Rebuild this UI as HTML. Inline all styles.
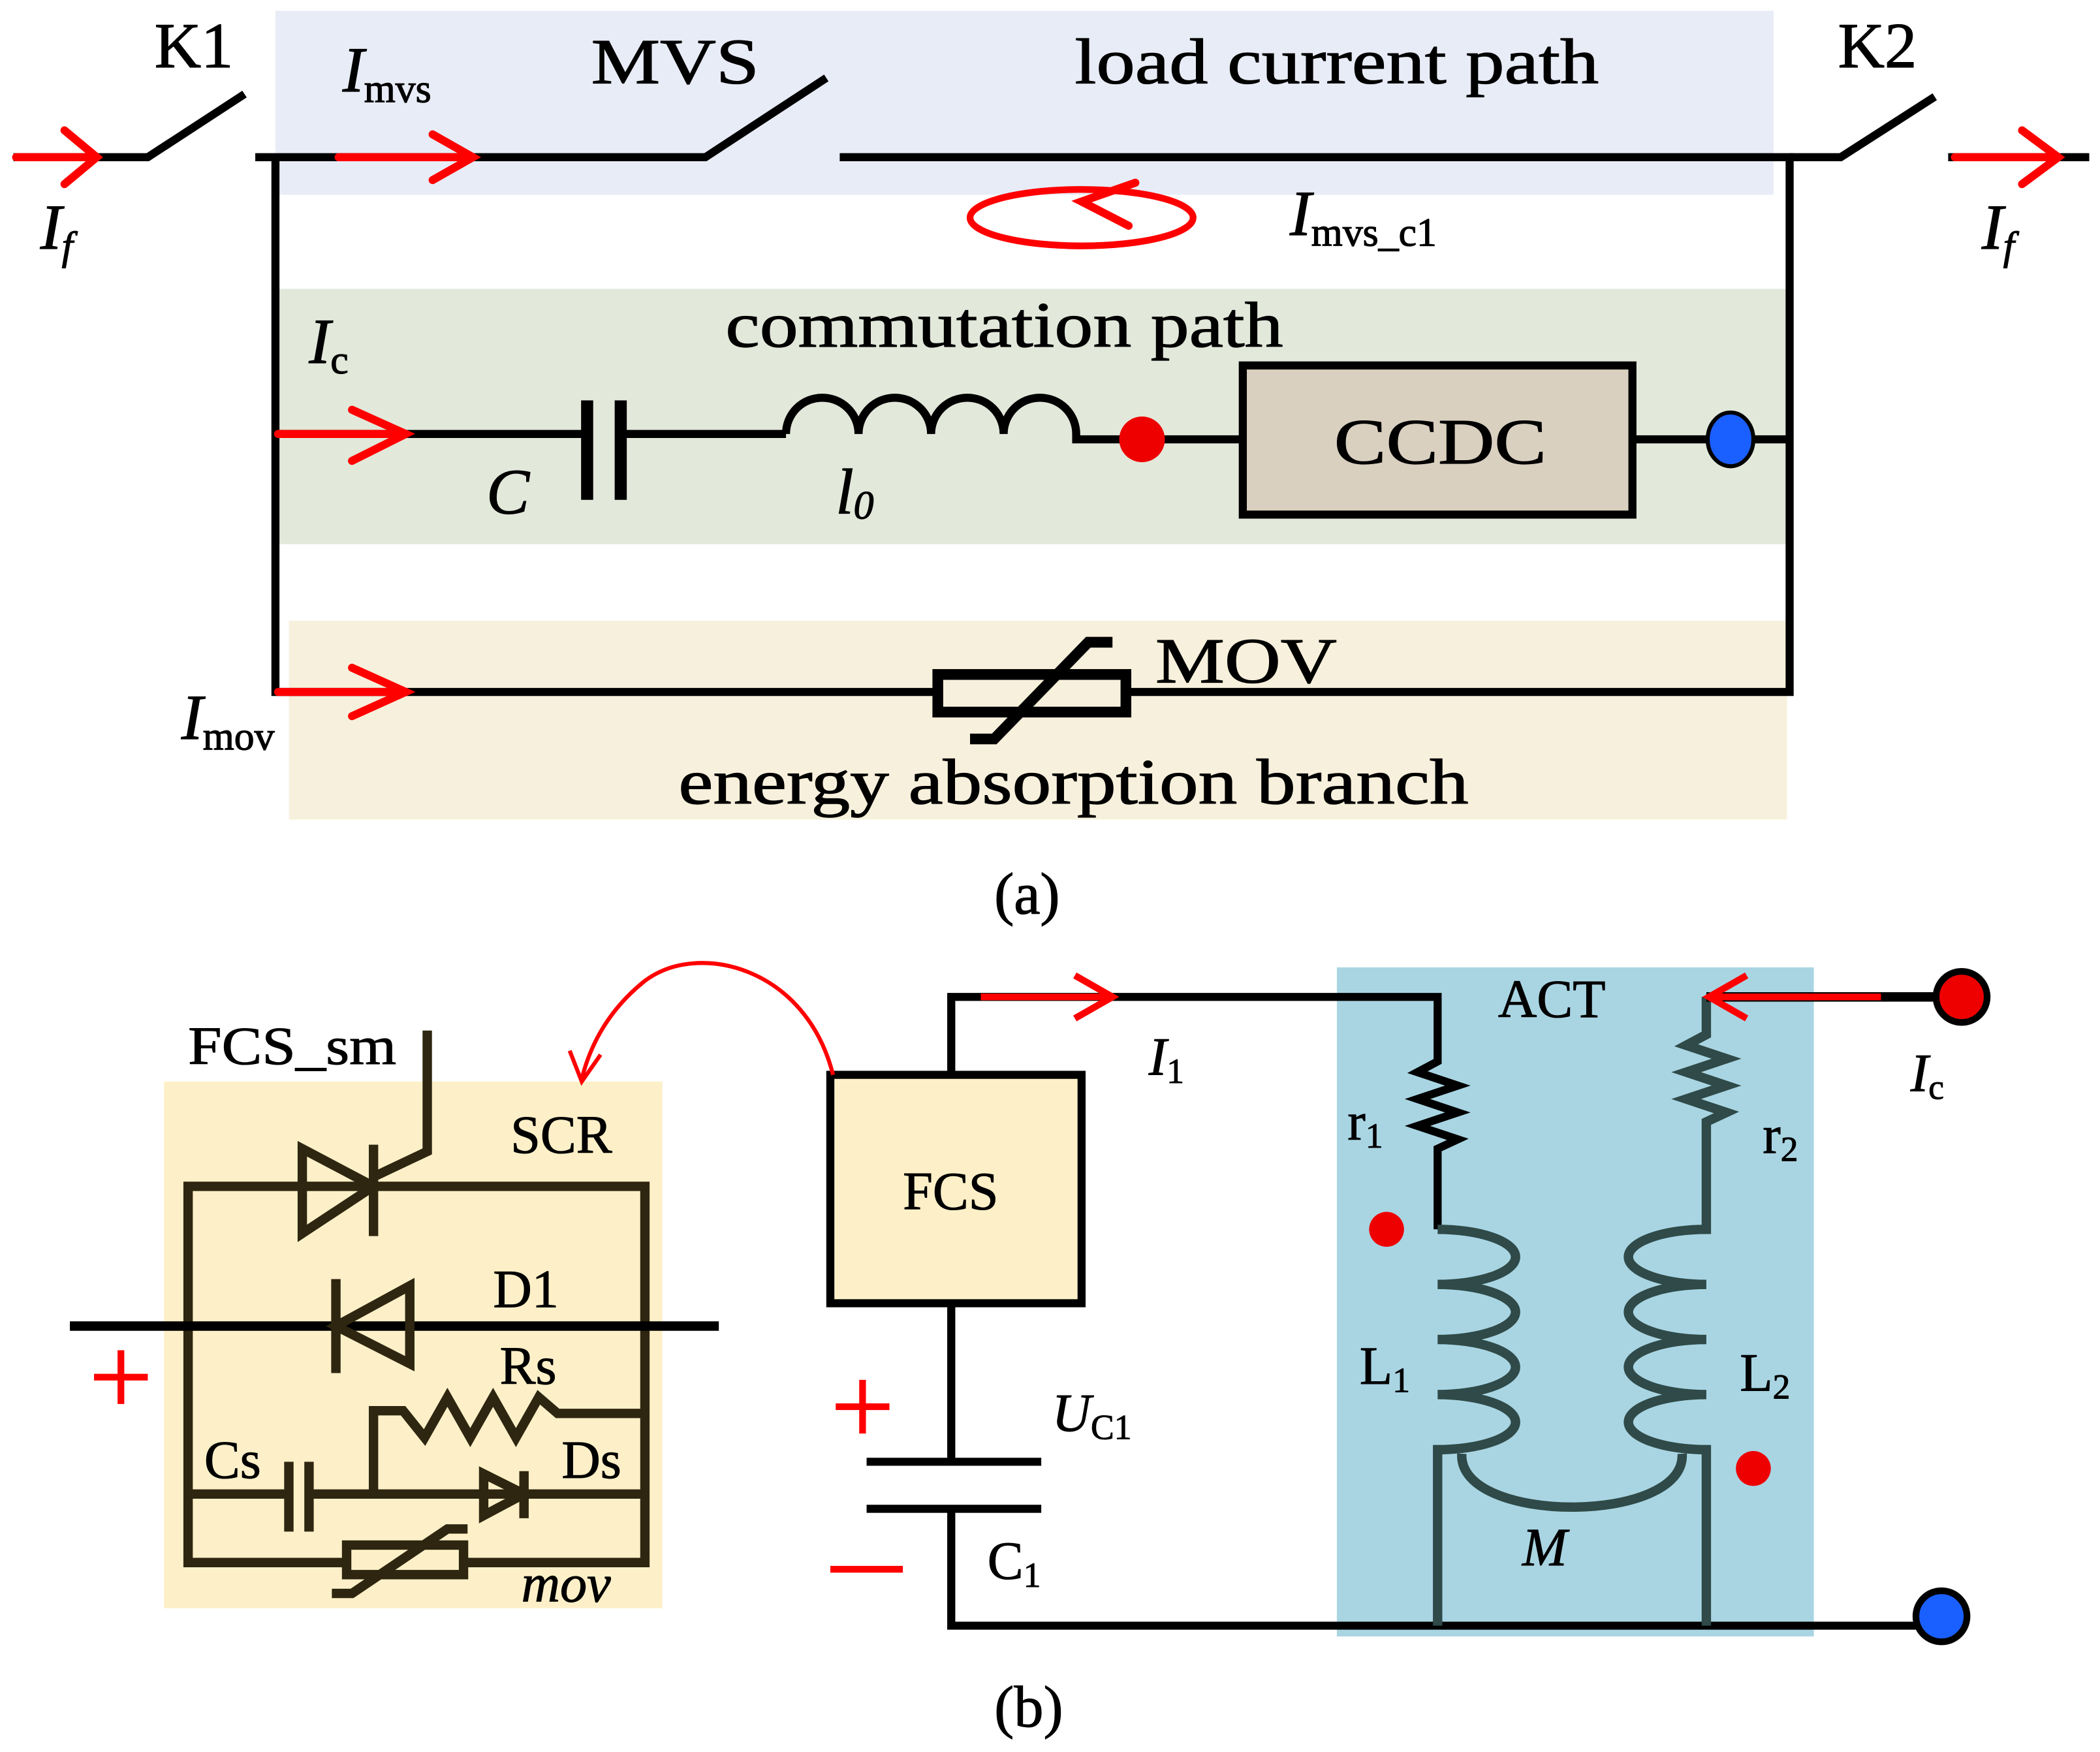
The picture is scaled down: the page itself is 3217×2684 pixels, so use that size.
<!DOCTYPE html>
<html><head><meta charset="utf-8"><style>html,body{margin:0;padding:0;background:#fff}svg{display:block}</style></head>
<body>
<svg width="3217" height="2684" viewBox="0 0 1563 1304" xmlns="http://www.w3.org/2000/svg" font-family="Liberation Serif, serif">
<!-- bands -->
<rect x="205" y="8" width="1115" height="137" fill="#e8ecf6"/>
<rect x="205" y="215" width="1125" height="190" fill="#e2e8da"/>
<rect x="215" y="462" width="1115" height="148" fill="#f7f0dc"/>
<g stroke="#000" stroke-width="6" fill="none">
<path d="M10,117 H110 L182,70"/>
<path d="M190,117 H525 L615,58"/>
<path d="M625,117 H1332 V515 H840"/>
<path d="M1332,117 H1370 L1440,72"/>
<path d="M1450,117 H1555"/>
<path d="M205,117 V515 H695"/>
<path d="M205,323 H437 M462,323 H585"/>
<path d="M437,298 V372 M462,298 V372" stroke-width="9"/>
<path d="M585,323 a27,27 0 0 1 54,0 a27,27 0 0 1 54,0 a27,27 0 0 1 54,0 a27,27 0 0 1 54,0 V327 H925 M1215,327 H1330"/>
<rect x="925" y="272" width="290" height="111" fill="#d9d0c0"/>
<rect x="698" y="502" width="140" height="28" stroke-width="8"/>
<path d="M722,550 H740 L810,478 H828" stroke-width="8"/>
</g>
<circle cx="850" cy="327" r="17" fill="#e00"/>
<ellipse cx="1288" cy="327" rx="17" ry="20" fill="#1a5fff" stroke="#000" stroke-width="3"/>
<g stroke="#f00" stroke-width="6" fill="none" stroke-linecap="round">
<path d="M12,117 H72 M48,97 L72,117 L48,137"/>
<path d="M252,117 H352 M322,100 L352,117 L322,134"/>
<path d="M1455,117 H1532 M1505,97 L1532,117 L1505,137"/>
<path d="M207,323 H302 M262,305 L302,323 L262,343"/>
<path d="M207,515 H302 M262,497 L302,515 L262,533"/>
<ellipse cx="805" cy="162" rx="83" ry="21" stroke-width="5"/>
<path d="M845,136 L805,150 L840,168" stroke-width="6"/>
</g>
<g fill="#000" font-size="48" stroke="#000" stroke-width="0.6">
<text x="115" y="50">K1</text>
<text x="255" y="68" font-style="italic">I<tspan font-size="30" font-style="normal" dy="8">mvs</tspan></text>
<text x="440" y="62" textLength="125" lengthAdjust="spacingAndGlyphs">MVS</text>
<text x="800" y="62" textLength="390" lengthAdjust="spacingAndGlyphs">load current path</text>
<text x="1368" y="50">K2</text>
<text x="30" y="185" font-style="italic">I<tspan font-size="30" dy="8">f</tspan></text>
<text x="1475" y="185" font-style="italic">I<tspan font-size="30" dy="8">f</tspan></text>
<text x="960" y="175" font-style="italic">I<tspan font-size="30" font-style="normal" dy="8">mvs_c1</tspan></text>
<text x="540" y="258" textLength="415" lengthAdjust="spacingAndGlyphs">commutation path</text>
<text x="230" y="270" font-style="italic">I<tspan font-size="30" font-style="normal" dy="8">c</tspan></text>
<text x="362" y="382" font-style="italic">C</text>
<text x="622" y="382" font-style="italic">l<tspan font-size="30" dy="4">0</tspan></text>
<text x="993" y="345" textLength="158" lengthAdjust="spacingAndGlyphs">CCDC</text>
<text x="860" y="508" textLength="135" lengthAdjust="spacingAndGlyphs">MOV</text>
<text x="135" y="550" font-style="italic">I<tspan font-size="30" font-style="normal" dy="8">mov</tspan></text>
<text x="505" y="598" textLength="588" lengthAdjust="spacingAndGlyphs">energy absorption branch</text>
<text x="740" y="680" font-size="44">(a)</text>
</g>
<!-- part b -->
<rect x="122" y="805" width="371" height="392" fill="#fdf0c8"/>
<rect x="995" y="720" width="355" height="498" fill="#a9d5e3"/>
<g stroke="#2e2610" stroke-width="7" fill="none">
<path d="M318,767 V857 L280,875"/>
<path d="M140,1163 V883 H480 V1163 Z"/>
<path d="M225,855 V918 L278,883 Z M278,852 V920"/>
<path d="M52,987 H535" stroke="#000"/>
<path d="M305,957 V1015 L250,987 Z M250,952 V1022"/>
<path d="M278,1112 V1050 H300 L316,1070 L333,1040 L350,1070 L367,1040 L384,1070 L401,1040 L415,1052 H480"/>
<path d="M140,1112 H215 M230,1112 H480"/>
<path d="M215,1088 V1140 M230,1088 V1140"/>
<path d="M360,1097 V1128 L390,1112 Z M390,1095 V1130"/>
<rect x="258" y="1150" width="87" height="22" fill="#fdf0c8"/>
<path d="M247,1186 H262 L333,1138 H348"/>
</g>
<g stroke="#000" stroke-width="6" fill="none">
<path d="M708,800 V742 H1070 V790 l-15,8 l30,10 l-30,10 l30,10 l-30,10 l30,10 l-15,7 V915"/>
<rect x="618" y="800" width="187" height="170" fill="#fdf0c8"/>
<path d="M708,970 V1088 M645,1088 H775 M645,1123 H775 M708,1123 V1210 H1445"/>
</g>
<g stroke="#2f4a48" stroke-width="7" fill="none">
<path d="M1070,915 a58,20.5 0 1 1 0,41 a58,20.5 0 1 1 0,41 a58,20.5 0 1 1 0,41 a58,20.5 0 1 1 0,41 V1210"/>
<path d="M1270,742 V770 l-15,8 l30,10 l-30,10 l30,10 l-30,10 l30,10 l-15,7 V915 a58,20.5 0 1 0 0,41 a58,20.5 0 1 0 0,41 a58,20.5 0 1 0 0,41 a58,20.5 0 1 0 0,41 V1210"/>
<path d="M1088,1082 C1085,1135 1255,1135 1252,1082"/>
<path d="M1270,742 H1460" stroke="#000"/>
</g>
<circle cx="1460" cy="742" r="19" fill="#e00" stroke="#000" stroke-width="5"/>
<circle cx="1445" cy="1203" r="19" fill="#1a5fff" stroke="#000" stroke-width="5"/>
<circle cx="1032" cy="915" r="13" fill="#e00"/>
<circle cx="1305" cy="1093" r="13" fill="#e00"/>
<g stroke="#f00" stroke-width="5" fill="none">
<path d="M730,742 H828 M800,726 L828,742 L800,758"/>
<path d="M1400,742 H1272 M1300,726 L1272,742 L1300,758"/>
<path d="M620,800 C600,720 520,700 480,730 C455,750 440,775 433,803" stroke-width="3"/>
<path d="M424,782 L433,805 L447,785" stroke-width="3"/>
<path d="M70,1025 H110 M90,1005 V1045 M622,1047 H662 M642,1027 V1067 M618,1168 H672"/>
</g>
<g fill="#000" font-size="40" stroke="#000" stroke-width="0.5">
<text x="140" y="792" textLength="155" lengthAdjust="spacingAndGlyphs">FCS_sm</text>
<text x="380" y="858">SCR</text>
<text x="367" y="973">D1</text>
<text x="372" y="1030">Rs</text>
<text x="152" y="1100">Cs</text>
<text x="418" y="1100">Ds</text>
<text x="388" y="1192" font-style="italic">mov</text>
<text x="672" y="900">FCS</text>
<text x="855" y="800" font-style="italic">I<tspan font-size="26" font-style="normal" dy="6">1</tspan></text>
<text x="783" y="1065" font-style="italic">U<tspan font-size="26" font-style="normal" dy="6">C1</tspan></text>
<text x="735" y="1175">C<tspan font-size="26" dy="6">1</tspan></text>
<text x="1115" y="757">ACT</text>
<text x="1003" y="848">r<tspan font-size="26" dy="6">1</tspan></text>
<text x="1312" y="858">r<tspan font-size="26" dy="6">2</tspan></text>
<text x="1012" y="1030">L<tspan font-size="26" dy="6">1</tspan></text>
<text x="1295" y="1035">L<tspan font-size="26" dy="6">2</tspan></text>
<text x="1133" y="1165" font-style="italic">M</text>
<text x="1422" y="812" font-style="italic">I<tspan font-size="26" font-style="normal" dy="6">c</tspan></text>
<text x="740" y="1285" font-size="44">(b)</text>
</g>
</svg>
</body></html>
